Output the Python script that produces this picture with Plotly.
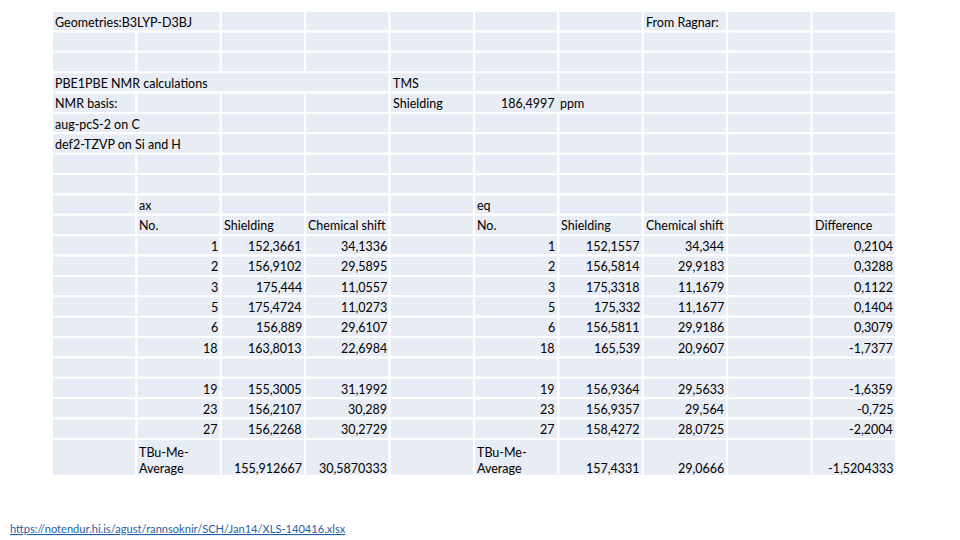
import plotly.graph_objects as go

# ---------------- data ----------------
atom_no = [1, 2, 3, 5, 6, 18, None, 19, 23, 27]
ax_shielding = [152.3661, 156.9102, 175.444, 175.4724, 156.889, 163.8013, None, 155.3005, 156.2107, 156.2268]
ax_shift = [34.1336, 29.5895, 11.0557, 11.0273, 29.6107, 22.6984, None, 31.1992, 30.289, 30.2729]
eq_shielding = [152.1557, 156.5814, 175.3318, 175.332, 156.5811, 165.539, None, 156.9364, 156.9357, 158.4272]
eq_shift = [34.344, 29.9183, 11.1679, 11.1677, 29.9186, 20.9607, None, 29.5633, 29.564, 28.0725]
difference = [0.2104, 0.3288, 0.1122, 0.1404, 0.3079, -1.7377, None, -1.6359, -0.725, -2.2004]

avg_label = "TBu-Me-<br>Average"
ax_avg = [155.912667, 30.5870333]
eq_avg = [157.4331, 29.0666]
diff_avg = -1.5204333
tms_shielding = 186.4997

notes = ["Geometries:B3LYP-D3BJ", "PBE1PBE NMR calculations", "NMR basis:",
         "aug-pcS-2 on C", "def2-TZVP on Si and H"]
tms_labels = ["TMS", "Shielding"]
group_labels = ["ax", "eq"]
col_headers = ["No.", "Shielding", "Chemical shift", "Difference"]
source_note = "From Ragnar:"
url = "https://notendur.hi.is/agust/rannsoknir/SCH/Jan14/XLS-140416.xlsx"

# ---------------- grid ----------------
n_cols = 10
row_heights = [1] * 21 + [1.8]
merges = {(1, 1): 2, (4, 1): 4, (6, 1): 2, (7, 1): 2, (5, 6): 2}

row_top = [0]
for h in row_heights:
    row_top.append(row_top[-1] + h)

covered = set()
for (r, c), s in merges.items():
    for k in range(1, s):
        covered.add((r, c + k))

FILL = "#E8ECF4"
shapes = []
for r in range(1, len(row_heights) + 1):
    for c in range(1, n_cols + 1):
        if (r, c) in covered:
            continue
        s = merges.get((r, c), 1)
        shapes.append(dict(type="rect", xref="x", yref="y",
                           x0=c - 1, x1=c - 1 + s, y0=row_top[r - 1], y1=row_top[r],
                           fillcolor=FILL, line=dict(color="white", width=2), layer="below"))


def fmt(v):
    if v is None:
        return ""
    return str(v).replace(".", ",")


texts = []  # (row, col, text, align)
texts.append((1, 1, notes[0], "left"))
texts.append((1, 8, source_note, "left"))
texts.append((4, 1, notes[1], "left"))
texts.append((4, 5, tms_labels[0], "left"))
texts.append((5, 1, notes[2], "left"))
texts.append((5, 5, tms_labels[1], "left"))
texts.append((5, 6, fmt(tms_shielding), "right"))
texts.append((5, 7, "ppm", "left0"))
texts.append((6, 1, notes[3], "left"))
texts.append((7, 1, notes[4], "left"))
texts.append((10, 2, group_labels[0], "left"))
texts.append((10, 6, group_labels[1], "left"))
for c, t in zip([2, 3, 4], col_headers[:3]):
    texts.append((11, c, t, "left"))
for c, t in zip([6, 7, 8, 10], col_headers):
    texts.append((11, c, t, "left"))
for i in range(len(atom_no)):
    r = 12 + i
    if atom_no[i] is None:
        continue
    texts.append((r, 2, fmt(atom_no[i]), "right"))
    texts.append((r, 3, fmt(ax_shielding[i]), "right"))
    texts.append((r, 4, fmt(ax_shift[i]), "right"))
    texts.append((r, 6, fmt(atom_no[i]), "right"))
    texts.append((r, 7, fmt(eq_shielding[i]), "right"))
    texts.append((r, 8, fmt(eq_shift[i]), "right"))
    texts.append((r, 10, fmt(difference[i]), "right"))
last = len(row_heights)
texts.append((last, 2, avg_label, "left"))
texts.append((last, 3, fmt(ax_avg[0]), "right"))
texts.append((last, 4, fmt(ax_avg[1]), "right"))
texts.append((last, 6, avg_label, "left"))
texts.append((last, 7, fmt(eq_avg[0]), "right"))
texts.append((last, 8, fmt(eq_avg[1]), "right"))
texts.append((last, 10, fmt(diff_avg), "right"))

FONT = dict(family="Lato", size=12.5, color="#000000")
annotations = []
for r, c, t, a in texts:
    if a.startswith("left"):
        x, xa, xs = c - 1, "left", (0 if a == "left0" else 1)
    else:
        x, xa, xs = c, "right", -1
    if r == last:
        y, ya, ys = row_top[r], "bottom", -2
    else:
        y, ya, ys = (row_top[r - 1] + row_top[r]) / 2, "middle", -1
    annotations.append(dict(x=x, y=y, xref="x", yref="y", text=t, showarrow=False,
                            xanchor=xa, yanchor=ya, xshift=xs, yshift=ys, font=FONT,
                            align="left"))

annotations.append(dict(x=0.0, y=1 - 520 / 540, xref="paper", yref="paper",
                        text="<u>" + url + "</u>",
                        showarrow=False, xanchor="left", yanchor="middle",
                        font=dict(family="Lato", size=11.1, color="#1F5FA8")))

# page body adds an 8px offset; grid origin at (52, 11) in the window
W, P = 84.4, 20.38
x_left, y_top = 52 - 8, 11 - 8

fig = go.Figure()
fig.add_trace(go.Scatter(x=[0, n_cols], y=[0, row_top[-1]], mode="markers",
                         marker=dict(opacity=0), hoverinfo="skip", showlegend=False))
fig.update_layout(
    width=960, height=540,
    margin=dict(l=0, r=0, t=0, b=0),
    paper_bgcolor="white", plot_bgcolor="white",
    shapes=shapes, annotations=annotations,
    xaxis=dict(range=[-x_left / W, (960 - x_left) / W], visible=False, fixedrange=True),
    yaxis=dict(range=[(540 - y_top) / P, -y_top / P], visible=False, fixedrange=True),
)
fig.write_html("out.html")
